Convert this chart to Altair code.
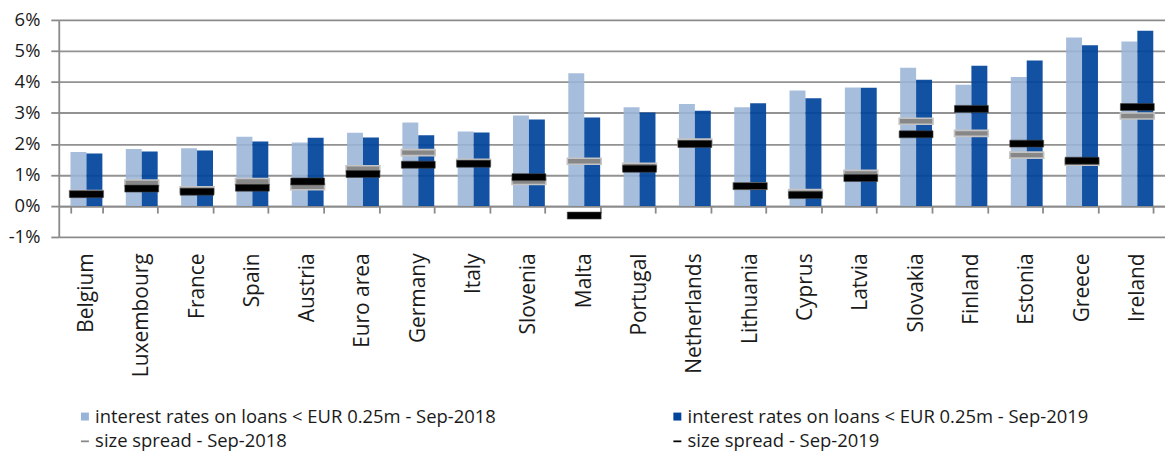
import altair as alt
import pandas as pd

countries = ["Belgium", "Luxembourg", "France", "Spain", "Austria", "Euro area",
             "Germany", "Italy", "Slovenia", "Malta", "Portugal", "Netherlands",
             "Lithuania", "Cyprus", "Latvia", "Slovakia", "Finland", "Estonia",
             "Greece", "Ireland"]
rates_2018 = [1.74, 1.84, 1.86, 2.23, 2.05, 2.36, 2.69, 2.40, 2.92, 4.28,
              3.18, 3.29, 3.18, 3.72, 3.82, 4.46, 3.91, 4.16, 5.43, 5.30]
rates_2019 = [1.69, 1.76, 1.79, 2.08, 2.20, 2.21, 2.28, 2.37, 2.79, 2.85,
              3.01, 3.07, 3.31, 3.47, 3.81, 4.07, 4.52, 4.69, 5.18, 5.65]
spread_2018 = [0.40, 0.74, 0.52, 0.79, 0.62, 1.20, 1.72, 1.41, 0.79, 1.44,
               1.28, 2.06, 0.64, 0.43, 1.05, 2.73, 2.34, 1.64, 1.41, 2.90]
spread_2019 = [0.38, 0.56, 0.46, 0.59, 0.79, 1.03, 1.33, 1.36, 0.93, -0.31,
               1.20, 2.00, 0.64, 0.35, 0.90, 2.31, 3.13, 2.01, 1.46, 3.19]

S_R18 = "interest rates on loans < EUR 0.25m - Sep-2018"
S_R19 = "interest rates on loans < EUR 0.25m - Sep-2019"
S_S18 = "size spread - Sep-2018"
S_S19 = "size spread - Sep-2019"
# legend fills column by column: order gives rows (R18, R19) / (S18, S19)
series_names = [S_R18, S_S18, S_R19, S_S19]
series_colors = ["#9ab4d7", "#878787", "#01449b", "#000000"]
dash = "M-1,-0.22H1V0.22H-1Z"
series_shapes = ["square", dash, "square", dash]
y_ticks = [-1, 0, 1, 2, 3, 4, 5, 6]

rows = []
for i, c in enumerate(countries):
    rows.append({"country": c, "series": S_R18, "value": rates_2018[i], "kind": "bar"})
    rows.append({"country": c, "series": S_R19, "value": rates_2019[i], "kind": "bar"})
    rows.append({"country": c, "series": S_S18, "value": spread_2018[i], "kind": "s18"})
    rows.append({"country": c, "series": S_S19, "value": spread_2019[i], "kind": "s19"})
df = pd.DataFrame(rows)

FONT = "Open Sans"
GRID = "#8a8a8a"

legend = alt.Legend(
    title=None, orient="none", legendX=17, legendY=389, columns=2,
    columnPadding=172, rowPadding=6, labelFontSize=18.5, labelFont=FONT,
    labelColor="#1a1a1a", labelLimit=700, symbolSize=64, labelOffset=1,
    symbolStrokeWidth=0, symbolOpacity=1,
)
color = alt.Color("series:N", scale=alt.Scale(domain=series_names, range=series_colors), legend=legend)

x_enc = alt.X(
    "country:N", sort=countries,
    scale=alt.Scale(paddingInner=0.424, paddingOuter=0.212),
    axis=alt.Axis(
        title=None, labelAngle=-90, offset=-31, tickBand="extent", tickSize=7,
        tickColor=GRID, tickWidth=1.8, domainColor=GRID, domainWidth=1.8,
        labelPadding=40, labelFontSize=21, labelFont=FONT, labelColor="#1a1a1a",
        grid=False,
    ),
)
y_enc = alt.Y(
    "value:Q",
    scale=alt.Scale(domain=[-1, 6], nice=False, zero=False),
    axis=alt.Axis(
        title=None, values=y_ticks, tickCount=len(y_ticks), labelExpr="datum.value + '%'",
        labelOverlap=False,
        labelFontSize=18.5, labelFont=FONT, labelColor="#1a1a1a", labelPadding=11,
        tickSize=8, tickColor=GRID, tickWidth=1.8, domainColor=GRID, domainWidth=1.8,
        grid=True, gridColor="#6e6e6e", gridWidth=1.8, gridOpacity=0.75,
    ),
)

bars_light = alt.Chart(df).transform_filter(alt.datum.series == S_R18).mark_bar(opacity=0.88).encode(
    x=x_enc,
    xOffset=alt.XOffset("series:N", sort=[S_R18, S_R19], scale=alt.Scale(domain=[S_R18, S_R19], paddingInner=0, paddingOuter=0)),
    y=y_enc,
    color=color,
)
bars_dark = alt.Chart(df).transform_filter(alt.datum.series == S_R19).mark_bar(opacity=0.93).encode(
    x=alt.X("country:N", sort=countries),
    xOffset=alt.XOffset("series:N", sort=[S_R18, S_R19], scale=alt.Scale(domain=[S_R18, S_R19], paddingInner=0, paddingOuter=0)),
    y=alt.Y("value:Q"),
    color=color,
)

ticks18 = alt.Chart(df).transform_filter(alt.datum.kind == "s18").mark_tick(
    size=34, thickness=6, stroke="#c4c4c4", strokeWidth=1.6, opacity=1
).encode(x=alt.X("country:N", sort=countries), y=alt.Y("value:Q"), color=color)

ticks19 = alt.Chart(df).transform_filter(alt.datum.kind == "s19").mark_tick(
    size=34, thickness=7, stroke="#444444", strokeWidth=0.6, opacity=1
).encode(x=alt.X("country:N", sort=countries), y=alt.Y("value:Q"), color=color)

legend_pts = alt.Chart(df).transform_filter("false").mark_point(filled=True, opacity=1).encode(
    x=alt.X("country:N", sort=countries),
    y=alt.Y("value:Q"),
    color=color,
    shape=alt.Shape("series:N", scale=alt.Scale(domain=series_names, range=series_shapes), legend=legend),
)

chart = alt.layer(bars_light, bars_dark, ticks18, ticks19, legend_pts).properties(
    width=1111, height=218,
    padding={"left": 0, "top": 2, "right": 0, "bottom": 0},
).configure_view(stroke=None).configure(background="white")

chart.save("out.html", embed_options={"renderer": "svg", "actions": False})
